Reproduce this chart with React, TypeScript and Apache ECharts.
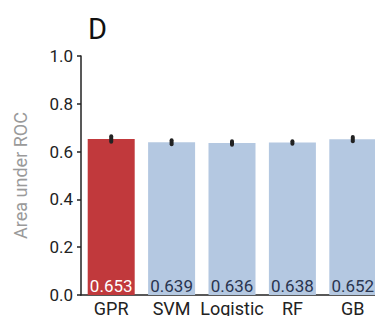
import React, { useEffect, useRef } from "react";
import * as echarts from "echarts";

const categories = ["GPR", "SVM", "Logistic", "RF", "GB"];
const values = [0.653, 0.639, 0.636, 0.638, 0.652];
const errors = [0.02, 0.017, 0.016, 0.014, 0.017];
const valueLabels = ["0.653", "0.639", "0.636", "0.638", "0.652"];
const yTicks = [0, 0.2, 0.4, 0.6, 0.8, 1.0];

const RED = "#c1393c";
const BLUE = "#b4c8e1";

export default function App() {
  const ref = useRef<HTMLDivElement>(null);
  useEffect(() => {
    const chart = echarts.init(ref.current!, null, { renderer: "svg" });
    chart.setOption({
      animation: false,
      title: {
        text: "D",
        left: 83,
        top: 9,
        textStyle: { fontFamily: "Roboto", fontSize: 29, fontWeight: "normal", color: "#111" },
      },
      grid: { left: 81, top: 56, right: -7, bottom: 29, containLabel: false },
      xAxis: {
        type: "category",
        data: categories,
        axisLine: { lineStyle: { color: "#222", width: 1.5 } },
        axisTick: { alignWithLabel: true, length: 5, lineStyle: { color: "#222", width: 1.5 } },
        axisLabel: { interval: 0, fontFamily: "Roboto", fontSize: 18, color: "#222", margin: 4, lineHeight: 18 },
      },
      yAxis: {
        type: "value",
        min: 0,
        max: 1,
        interval: 0.2,
        name: "Area under ROC",
        nameLocation: "middle",
        nameGap: 52,
        nameTextStyle: { fontFamily: "Roboto", fontSize: 18, color: "#9a9a9a" },
        axisLine: { show: true, lineStyle: { color: "#222", width: 1.5 } },
        axisTick: { show: true, length: 4, lineStyle: { color: "#222", width: 1.5 } },
        splitLine: { show: false },
        axisLabel: {
          fontFamily: "Roboto",
          fontSize: 17,
          color: "#222",
          margin: 8,
          formatter: (v: number) => (yTicks.includes(Math.round(v * 10) / 10) ? v.toFixed(1) : ""),
        },
      },
      series: [
        {
          type: "bar",
          data: values.map((v, i) => ({
            value: v,
            itemStyle: { color: i === 0 ? RED : BLUE },
            label: {
              show: true,
              position: "insideBottom",
              distance: 1,
              formatter: valueLabels[i],
              fontFamily: "Roboto",
              fontSize: 17,
              color: i === 0 ? "#fff" : "#2a3550",
            },
          })),
          barWidth: 47,
        },
        {
          type: "custom",
          data: values.map((v, i) => [i, v, errors[i]]),
          renderItem: (params: any, api: any) => {
            const x = api.value(0);
            const v = api.value(1);
            const e = api.value(2);
            const p1 = api.coord([x, v - e]);
            const p2 = api.coord([x, v + e]);
            return {
              type: "line",
              shape: { x1: p1[0], y1: p1[1] - 2, x2: p2[0], y2: p2[1] + 2 },
              style: { stroke: "#222", lineWidth: 4, lineCap: "round" },
            };
          },
          z: 10,
        },
      ],
    });
    return () => chart.dispose();
  }, []);
  return <div ref={ref} style={{ width: 383, height: 324, margin: -8 }} />;
}
